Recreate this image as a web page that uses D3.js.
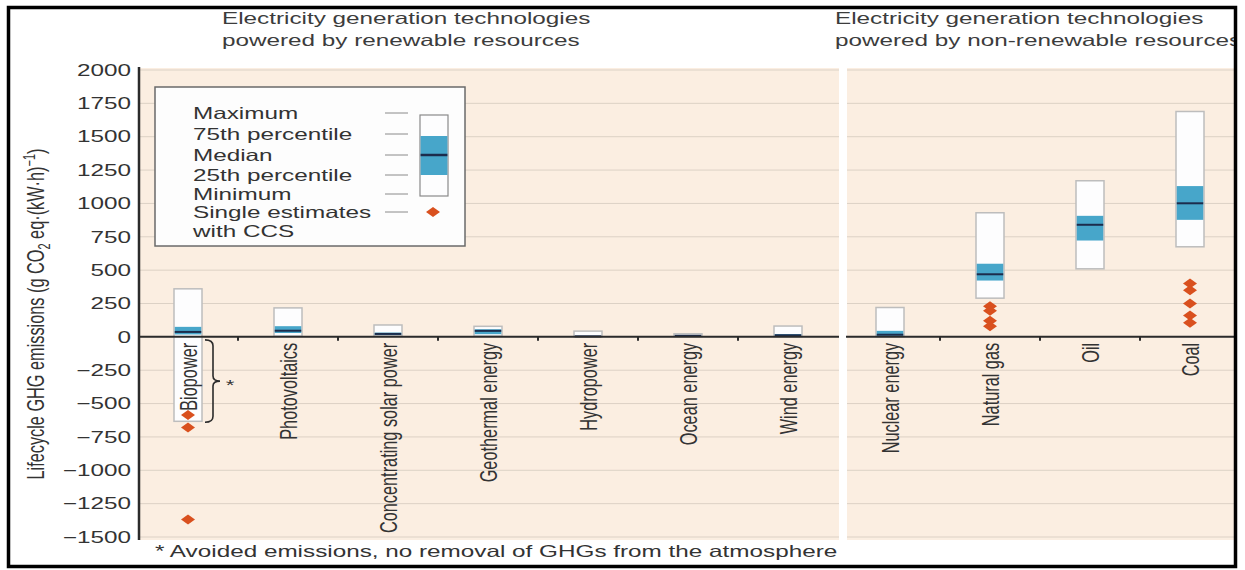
<!DOCTYPE html>
<html>
<head>
<meta charset="utf-8">
<script src="https://cdn.jsdelivr.net/npm/d3@7"></script>
<style>
  body { margin: 0; background: #fff; }
  svg { display: block; }
  text { font-family: "Liberation Sans", Arial, Helvetica, sans-serif; }
</style>
</head>
<body>
<svg id="chart" width="1245" height="570"></svg>
<script>
// Lifecycle GHG emissions by technology (g CO2 eq per kWh)
const renewables = ["Biopower", "Photovoltaics", "Concentrating solar power", "Geothermal energy",
                    "Hydropower", "Ocean energy", "Wind energy"];
const nonRenewables = ["Nuclear energy", "Natural gas", "Oil", "Coal"];
const technologies = renewables.concat(nonRenewables);

const minimum = [-633, 5, 7, 6, 0, 2, 2, 1, 290, 510, 675];
const p25     = [18, 29, 14, 20, 3, 6, 8, 8, 422, 722, 877];
const median  = [37, 46, 22, 45, 4, 8, 12, 16, 469, 840, 1001];
const p75     = [75, 80, 32, 57, 7, 9, 20, 45, 548, 907, 1130];
const maximum = [360, 217, 89, 79, 43, 23, 81, 220, 930, 1170, 1689];

// single estimates with carbon capture and storage
const ccsTechnology = ["Biopower", "Biopower", "Biopower",
                       "Natural gas", "Natural gas", "Natural gas", "Natural gas",
                       "Coal", "Coal", "Coal", "Coal", "Coal"];
const ccsValues = [-585, -680, -1368, 230, 195, 120, 80, 400, 350, 250, 160, 105];

const yTicks = [2000, 1750, 1500, 1250, 1000, 750, 500, 250, 0, -250, -500, -750, -1000, -1250, -1500];

const legendLabels = ["Maximum", "75th percentile", "Median", "25th percentile", "Minimum",
                      "Single estimates", "with CCS"];

const titleLeft = ["Electricity generation technologies", "powered by renewable resources"];
const titleRight = ["Electricity generation technologies", "powered by non-renewable resources"];
const footnote = "* Avoided emissions, no removal of GHGs from the atmosphere";

// ---- styling ----
const SX = 1.49;              // horizontal stretch of lettering
const FONT = 16.3;
const BG = "#fbeee1";
const GRID = "#dcd1c5";
const BLUE = "#47a6ca";
const NAVY = "#1c2c4c";
const DIAMOND = "#d9501e";
const INK = "#333";

const svg = d3.select("#chart");

svg.append("defs").append("clipPath").attr("id", "frame")
  .append("rect").attr("x", 9).attr("y", 8).attr("width", 1225).attr("height", 557);

const root = svg.append("g").attr("clip-path", "url(#frame)");

const y = d3.scaleLinear().domain([-1500, 2000]).range([537, 70]);
const xLeft = d3.scaleBand().domain(renewables).range([138, 838]);
const xRight = d3.scaleBand().domain(nonRenewables).range([840, 1240]);
const xPos = t => renewables.includes(t) ? xLeft(t) + xLeft.bandwidth() / 2
                                         : xRight(t) + xRight.bandwidth() / 2;

const panels = [
  { x0: 140, x1: 839 },
  { x0: 847, x1: 1236 }
];

// panel backgrounds
root.selectAll("rect.panel").data(panels).join("rect")
  .attr("class", "panel")
  .attr("x", d => d.x0).attr("y", 68)
  .attr("width", d => d.x1 - d.x0).attr("height", 472)
  .attr("fill", BG);

// gridlines
panels.forEach(p => {
  root.append("g").selectAll("line").data(yTicks).join("line")
    .attr("x1", p.x0).attr("x2", p.x1)
    .attr("y1", d => y(d)).attr("y2", d => y(d))
    .attr("stroke", GRID).attr("stroke-width", 1);
});

// stretched text helper
function label(g, x, yy, str, opts = {}) {
  return g.append("text")
    .attr("transform", `translate(${x},${yy}) scale(${SX},1)` + (opts.rotate ? ` rotate(${opts.rotate})` : ""))
    .attr("text-anchor", opts.anchor || "start")
    .attr("dy", opts.dy || null)
    .attr("font-size", opts.size || FONT)
    .attr("fill", opts.fill || INK)
    .text(str);
}

// titles
const titles = root.append("g");
titleLeft.forEach((t, i) => label(titles, 222, 24 + i * 22, t, { fill: "#3c3c3c" }));
titleRight.forEach((t, i) => label(titles, 835, 24 + i * 22, t, { fill: "#3c3c3c" }));

// y axis
const yAxis = root.append("g").attr("transform", "translate(139,0)")
  .call(d3.axisLeft(y).tickValues(yTicks).tickFormat(d3.format("d")).tickSize(0).tickPadding(0));
yAxis.select(".domain").remove();
yAxis.selectAll("text")
  .attr("x", null)
  .attr("transform", `translate(-8,0) scale(${SX},1)`)
  .attr("font-size", FONT)
  .attr("font-family", "Liberation Sans, Arial, sans-serif")
  .attr("fill", INK);
root.append("line")
  .attr("x1", 139).attr("x2", 139).attr("y1", 67).attr("y2", 540)
  .attr("stroke", "#2b2b2b").attr("stroke-width", 2.5);

// y axis title
const yTitle = root.append("text")
  .attr("transform", `translate(44,314) scale(${SX},1) rotate(-90)`)
  .attr("text-anchor", "middle")
  .attr("font-size", FONT)
  .attr("fill", INK);
yTitle.append("tspan").text("Lifecycle GHG emissions (g CO");
yTitle.append("tspan").attr("font-size", 11).attr("dy", 4).text("2");
yTitle.append("tspan").attr("dy", -4).text(" eq\u00B7(kW\u00B7h)");
yTitle.append("tspan").attr("font-size", 11).attr("dy", -6).text("\u22121");
yTitle.append("tspan").attr("dy", 6).text(")");

// boxes
const BW = 28;
const boxData = technologies.map((t, i) => ({
  tech: t, min: minimum[i], q1: p25[i], med: median[i], q3: p75[i], max: maximum[i]
}));
const boxes = root.append("g").selectAll("g").data(boxData).join("g");
boxes.append("rect")
  .attr("x", d => xPos(d.tech) - BW / 2).attr("width", BW)
  .attr("y", d => y(d.max)).attr("height", d => y(d.min) - y(d.max))
  .attr("fill", "#fdfdfe").attr("stroke", "#bdbdbd").attr("stroke-width", 1.5);
boxes.append("rect")
  .attr("x", d => xPos(d.tech) - BW / 2 + 0.75).attr("width", BW - 1.5)
  .attr("y", d => y(d.q3)).attr("height", d => Math.max(1, y(d.q1) - y(d.q3)))
  .attr("fill", BLUE);
boxes.append("line")
  .attr("x1", d => xPos(d.tech) - BW / 2 + 0.75).attr("x2", d => xPos(d.tech) + BW / 2 - 0.75)
  .attr("y1", d => y(d.med)).attr("y2", d => y(d.med))
  .attr("stroke", NAVY).attr("stroke-width", 2);

// zero line with category separators
const zero = root.append("g");
panels.forEach(p => {
  zero.append("line").attr("x1", p.x0 - 1).attr("x2", p.x1)
    .attr("y1", y(0)).attr("y2", y(0))
    .attr("stroke", "#2b2b2b").attr("stroke-width", 2);
});
const separators = renewables.slice(1).map(t => xLeft(t))
  .concat(nonRenewables.slice(1).map(t => xRight(t)));
zero.selectAll("line.sep").data(separators).join("line")
  .attr("class", "sep")
  .attr("x1", d => d).attr("x2", d => d)
  .attr("y1", y(0)).attr("y2", y(0) + 4)
  .attr("stroke", "#2b2b2b").attr("stroke-width", 2);

// category labels, rotated
const cats = root.append("g");
technologies.forEach(t => {
  label(cats, xPos(t), y(0) + 6, t, { rotate: -90, anchor: "end", dy: "0.35em" });
});

// bracket marking avoided emissions for biopower
const bx = xPos("Biopower") + 25;
const yTop = y(0) + 3, yBot = y(minimum[0]) + 1, yMid = (yTop + yBot) / 2;
root.append("path")
  .attr("d", `M${bx - 8},${yTop} Q${bx},${yTop} ${bx},${yTop + 6} L${bx},${yMid - 5} Q${bx},${yMid} ${bx + 7},${yMid}
              Q${bx},${yMid} ${bx},${yMid + 5} L${bx},${yBot - 6} Q${bx},${yBot} ${bx - 8},${yBot}`)
  .attr("fill", "none").attr("stroke", "#2b2b2b").attr("stroke-width", 1.6);
label(root, bx + 17, yMid + 9, "*", { anchor: "middle", size: 15 });

// CCS single estimates
const diamondPath = "M-7,0L0,-5L7,0L0,5Z";
root.append("g").selectAll("path").data(ccsValues.map((v, i) => ({ tech: ccsTechnology[i], v })))
  .join("path")
  .attr("d", diamondPath)
  .attr("transform", d => `translate(${xPos(d.tech)},${y(d.v)})`)
  .attr("fill", DIAMOND);

// legend
const lg = root.append("g");
lg.append("rect").attr("x", 155).attr("y", 87).attr("width", 310).attr("height", 159)
  .attr("fill", "#fdfdfd").attr("stroke", "#6a6a6a").attr("stroke-width", 1.5);
const legendRows = [113, 134, 155, 175, 194, 212, 231];
legendLabels.forEach((t, i) => {
  label(lg, 193, legendRows[i], t, { dy: "0.35em" });
  if (i < 6) {
    lg.append("line").attr("x1", 385).attr("x2", 408)
      .attr("y1", legendRows[i]).attr("y2", legendRows[i])
      .attr("stroke", "#8a8a8a").attr("stroke-width", 1);
  }
});
lg.append("rect").attr("x", 420).attr("y", 115).attr("width", 28).attr("height", 81)
  .attr("fill", "#fdfdfe").attr("stroke", "#8a8a8a").attr("stroke-width", 1.2);
lg.append("rect").attr("x", 420.6).attr("y", 136).attr("width", 26.8).attr("height", 39)
  .attr("fill", BLUE);
lg.append("line").attr("x1", 420.6).attr("x2", 447.4).attr("y1", 155).attr("y2", 155)
  .attr("stroke", NAVY).attr("stroke-width", 2.5);
lg.append("path").attr("d", diamondPath).attr("transform", "translate(433,212)").attr("fill", DIAMOND);

// footnote
label(root, 155, 557, footnote, { fill: INK });

// outer frame
svg.append("rect").attr("x", 8.5).attr("y", 7.5).attr("width", 1227).attr("height", 559)
  .attr("fill", "none").attr("stroke", "#000").attr("stroke-width", 3.5);
</script>
</body>
</html>
